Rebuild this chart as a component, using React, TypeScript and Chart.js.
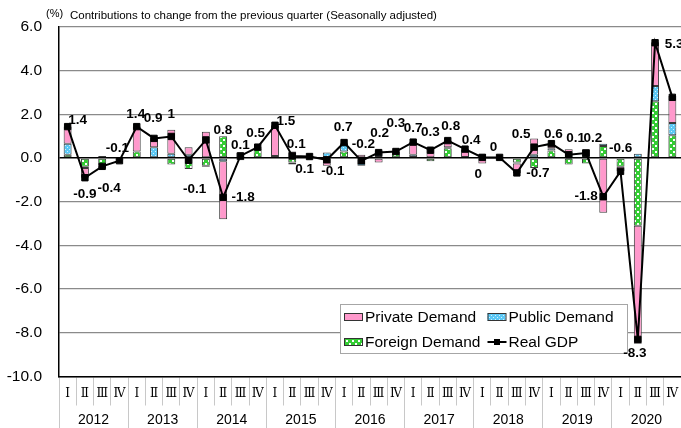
import React, { useEffect, useRef } from 'react';
import { Chart, registerables } from 'chart.js';

Chart.register(...registerables);

const years = ['2012', '2013', '2014', '2015', '2016', '2017', '2018', '2019', '2020'];
const quarterNames = ['Ⅰ', 'Ⅱ', 'Ⅲ', 'Ⅳ'];
const quarters = years.flatMap(() => quarterNames);

const privateDemand = [
  0.8, -0.45, 0.1, -0.05, 1.15, 0.45, 1.1, 0.35, 1.2,
  -2.65, -0.1, 0.05, 1.4, 0.3, 0.05, -0.35, 0.05, 0.15,
  -0.2, 0.0, 0.6, 0.5, 0.3, 0.35, -0.25, 0.05, -0.45,
  0.75, 0.15, 0.35, 0.3, -2.5, -0.2, -5.4, 2.0, 1.25,
];
const publicDemand = [
  0.5, -0.05, -0.1, 0.02, 0.0, 0.5, 0.2, 0.15, -0.05,
  -0.15, 0.25, 0.0, 0.0, -0.1, 0.0, 0.25, 0.35, -0.3,
  0.3, 0.0, 0.1, 0.0, 0.05, 0.0, 0.15, -0.02, -0.05,
  0.15, 0.1, 0.05, 0.1, 0.1, 0.0, 0.2, 0.7, 0.55,
];
const foreignDemand = [
  0.15, -0.4, -0.35, -0.05, 0.3, -0.05, -0.3, -0.5, -0.35,
  1.0, 0.0, 0.45, 0.1, -0.2, 0.05, 0.0, 0.3, -0.05,
  0.05, 0.3, 0.05, -0.15, 0.45, 0.05, 0.05, -0.03, -0.2,
  -0.45, 0.35, -0.3, -0.25, 0.55, -0.4, -3.1, 2.6, 1.05,
];
const realGDP = [
  1.44, -0.9, -0.38, -0.12, 1.44, 0.9, 0.99, -0.1, 0.83,
  -1.8, 0.1, 0.5, 1.5, 0.1, 0.07, -0.08, 0.71, -0.13,
  0.25, 0.3, 0.73, 0.36, 0.8, 0.41, 0.03, 0.03, -0.68,
  0.5, 0.66, 0.15, 0.23, -1.77, -0.61, -8.3, 5.28, 2.78,
];
const gdpLabels = [
  '1.4', '-0.9', '-0.4', '-0.1', '1.4', '0.9', '1', '-0.1', '0.8',
  '-1.8', '0.1', '0.5', '1.5', '0.1', '0.1', '-0.1', '0.7', '-0.2',
  '0.2', '0.3', '0.7', '0.3', '0.8', '0.4', '0', '0', '-0.7',
  '0.5', '0.6', '0.1', '0.2', '-1.8', '-0.6', '-8.3', '5.3', '2.8',
];
// label offsets from each GDP point (pixels)
const labelDx = [
  10, 0, 7, -2, -1, -1, 0, 6, 17,
  20, 0, -2, 11, 4, -5, 6, -1, 2,
  1, 0, 0, 0, 3, 6, -4, -6, 21,
  -13, 2, 7, 7, -17, 0, -3, 19, 19,
];
const labelDy = [
  -6, 17, 22, -12, -12, -20, -22, 29, -10,
  0, -11, -14, -4, -12, 13, 11, -15, -17,
  -19, -28, -14, -18, -14, -9, 17, -10, 0,
  -13, -9, -17, -15, 0, -23, 14, 2, 0,
];

const SANS = '"Liberation Sans", Arial, sans-serif';

function makePattern(ctx: CanvasRenderingContext2D, bg: string, fg: string, size: number, cells: number[][]) {
  const c = document.createElement('canvas');
  c.width = size;
  c.height = size;
  const g = c.getContext('2d')!;
  g.fillStyle = bg;
  g.fillRect(0, 0, size, size);
  g.fillStyle = fg;
  cells.forEach(([x, y, w, h]) => g.fillRect(x, y, w, h));
  return ctx.createPattern(c, 'repeat') as CanvasPattern;
}

export default function App() {
  const ref = useRef<HTMLCanvasElement>(null);

  useEffect(() => {
    const canvas = ref.current!;
    const ctx = canvas.getContext('2d')!;
    const pink = '#ff99cc';
    const blue = makePattern(ctx, '#5cc8f5', 'rgba(255,255,255,0.75)', 4, [[1, 1, 1, 1], [3, 3, 1, 1]]);
    const green = makePattern(ctx, '#33cc33', '#ffffff', 6, [[1, 1, 2, 2], [4, 4, 2, 2]]);

    const titlePlugin = {
      id: 'topTitle',
      afterDraw(chart: any) {
        const c = chart.ctx;
        const ca = chart.chartArea;
        c.save();
        c.fillStyle = '#000';
        c.textBaseline = 'middle';
        c.textAlign = 'left';
        c.font = `11px ${SANS}`;
        c.fillText('(%)', ca.left - 13, 14);
        c.font = `11.5px ${SANS}`;
        c.fillText('Contributions to change from the previous quarter (Seasonally adjusted)', ca.left + 11, 16);
        c.restore();
      },
    };

    const legendPlugin = {
      id: 'boxLegend',
      afterDraw(chart: any) {
        const c = chart.ctx;
        const ca = chart.chartArea;
        const x0 = ca.left + 281;
        const y0 = ca.top + 277;
        const w = 287;
        const h = 49;
        c.save();
        c.fillStyle = '#fff';
        c.fillRect(x0, y0, w, h);
        c.strokeStyle = '#a6a6a6';
        c.lineWidth = 1;
        c.strokeRect(x0 + 0.5, y0 + 0.5, w, h);
        const items = [
          { label: 'Private Demand', fill: pink as any, col: 0, row: 0 },
          { label: 'Public Demand', fill: blue as any, col: 1, row: 0 },
          { label: 'Foreign Demand', fill: green as any, col: 0, row: 1 },
          { label: 'Real GDP', fill: null, col: 1, row: 1 },
        ];
        c.font = `15.5px ${SANS}`;
        c.textBaseline = 'middle';
        c.textAlign = 'left';
        items.forEach((it) => {
          const sx = x0 + 4 + it.col * 143.5;
          const cy = y0 + 13 + it.row * 25;
          if (it.fill) {
            c.fillStyle = it.fill;
            c.fillRect(sx, cy - 4, 18, 8);
            c.strokeStyle = '#333';
            c.lineWidth = 1;
            c.strokeRect(sx + 0.5, cy - 3.5, 18, 7);
          } else {
            c.strokeStyle = '#000';
            c.lineWidth = 2;
            c.beginPath();
            c.moveTo(sx, cy);
            c.lineTo(sx + 19, cy);
            c.stroke();
            c.fillStyle = '#000';
            c.fillRect(sx + 6.5, cy - 3, 6, 6);
          }
          c.fillStyle = '#000';
          c.fillText(it.label, sx + 21, cy + 1);
        });
        c.restore();
      },
    };

    const labelPlugin = {
      id: 'gdpLabels',
      afterDraw(chart: any) {
        const meta = chart.getDatasetMeta(3);
        const c = chart.ctx;
        c.save();
        c.fillStyle = '#000';
        c.font = `bold 13.5px ${SANS}`;
        c.textAlign = 'center';
        c.textBaseline = 'middle';
        meta.data.forEach((pt: any, i: number) => {
          c.fillText(gdpLabels[i], pt.x + labelDx[i], pt.y + labelDy[i]);
        });
        c.restore();
      },
    };

    const barCommon = {
      borderColor: '#3a3a3a',
      borderWidth: 1,
      borderSkipped: false,
      stack: 'demand',
      order: 1,
      barPercentage: 0.46,
      categoryPercentage: 1,
    };

    const chart = new Chart(canvas, {
      type: 'bar',
      data: {
        labels: quarters,
        datasets: [
          { label: 'Foreign Demand', data: foreignDemand, backgroundColor: green, ...barCommon } as any,
          { label: 'Public Demand', data: publicDemand, backgroundColor: blue, ...barCommon } as any,
          { label: 'Private Demand', data: privateDemand, backgroundColor: pink, ...barCommon } as any,
          {
            type: 'line',
            label: 'Real GDP',
            data: realGDP,
            borderColor: '#000',
            backgroundColor: '#000',
            borderWidth: 2,
            pointStyle: 'rect',
            pointRadius: 4.5,
            pointBorderWidth: 1,
            pointBackgroundColor: '#000',
            pointBorderColor: '#000',
            stack: 'gdp',
            order: 0,
            tension: 0,
          } as any,
        ],
      },
      options: {
        responsive: false,
        animation: false,
        devicePixelRatio: 1,
        layout: { autoPadding: false, padding: { top: 27, left: 0, right: 0, bottom: 0 } },
        plugins: {
          legend: { display: false },
          tooltip: { enabled: false },
          title: { display: false },
        },
        scales: {
          x: {
            type: 'category',
            stacked: true,
            offset: true,
            weight: 0,
            grid: { offset: true, drawOnChartArea: false, drawTicks: true, tickLength: 29, color: '#c8c8c8', lineWidth: 1 },
            border: { display: true, color: '#000', width: 1.5 },
            ticks: {
              font: { family: '"DejaVu Serif", serif', size: 12 },
              color: '#000',
              padding: -19,
              autoSkip: false,
              maxRotation: 0,
              minRotation: 0,
            },
            afterFit: (s: any) => { s.height = 24.5; },
          },
          x2: {
            type: 'category',
            labels: years,
            position: 'bottom',
            offset: true,
            weight: 1,
            grid: { offset: true, drawOnChartArea: false, drawTicks: true, tickLength: 27, color: '#c8c8c8', lineWidth: 1 },
            border: { display: false },
            ticks: {
              font: { family: SANS, size: 14 },
              color: '#000',
              padding: -16,
              autoSkip: false,
              maxRotation: 0,
              minRotation: 0,
            },
            afterFit: (s: any) => { s.height = 27; },
          },
          y: {
            stacked: true,
            min: -10,
            max: 6,
            ticks: {
              stepSize: 2,
              callback: (v: any) => Number(v).toFixed(1),
              font: { family: SANS, size: 15.5 },
              color: '#000',
              padding: 17,
            },
            grid: {
              drawTicks: false,
              color: (c: any) => (c.tick && c.tick.value === 0 ? '#000' : '#8a8a8a'),
              lineWidth: (c: any) => (c.tick && c.tick.value === 0 ? 1.5 : 1.3),
            },
            border: { color: '#000', width: 1.5 },
            afterFit: (s: any) => { s.width = 59; },
          },
        } as any,
      },
      plugins: [titlePlugin, legendPlugin, labelPlugin],
    });

    return () => chart.destroy();
  }, []);

  return (
    <div style={{ position: 'fixed', left: 0, top: 0, width: 681, height: 428, background: '#fff', overflow: 'hidden' }}>
      <canvas ref={ref} width={681} height={428} style={{ display: 'block', width: 681, height: 428 }} />
    </div>
  );
}
